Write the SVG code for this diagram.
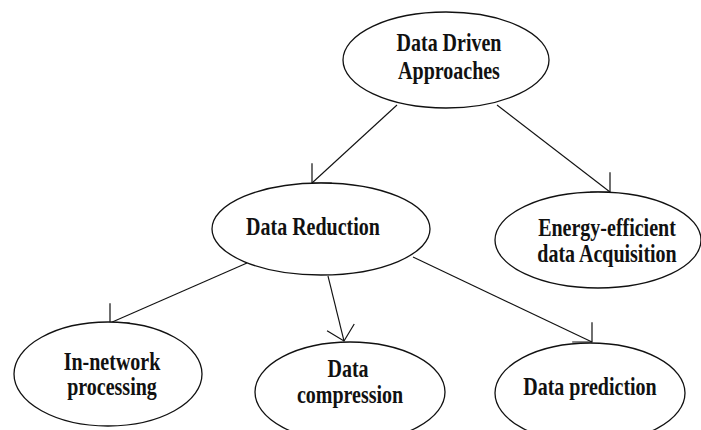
<svg xmlns="http://www.w3.org/2000/svg" width="701" height="430" viewBox="0 0 701 430">
<style>
.node ellipse{fill:#fff;stroke:#111;stroke-width:1.3}
.node text{font-family:"Liberation Serif","Times New Roman",serif;font-weight:bold;font-size:20px;text-anchor:middle;fill:#111}
.edges line{stroke:#111;stroke-width:1.1;fill:none}
.head{fill:none;stroke:#111;stroke-width:1.2}
</style>
<defs>
<marker id="arr" markerUnits="userSpaceOnUse" viewBox="-16 -16 18 32" refX="0" refY="0" markerWidth="18" markerHeight="32" orient="auto" overflow="visible">
<path class="head" d="M-14,-14 L0,0 L-14,14"/>
</marker>
<marker id="arrDL" markerUnits="userSpaceOnUse" viewBox="-16 -16 18 32" refX="0" refY="0" markerWidth="18" markerHeight="32" orient="135" overflow="visible">
<path class="head" d="M-14,-14 L0,0 L-14,14"/>
</marker>
<marker id="arrDR" markerUnits="userSpaceOnUse" viewBox="-16 -16 18 32" refX="0" refY="0" markerWidth="18" markerHeight="32" orient="45" overflow="visible">
<path class="head" d="M-14,-14 L0,0 L-14,14"/>
</marker>
</defs>
<rect width="701" height="430" fill="#fff"/>
<g class="edges">
<line x1="397" y1="105" x2="312" y2="183" marker-end="url(#arrDL)"/>
<line x1="497" y1="105" x2="610" y2="192" marker-end="url(#arrDR)"/>
<line x1="247" y1="263" x2="110" y2="323" marker-end="url(#arrDL)"/>
<line x1="328" y1="276" x2="344" y2="341" marker-end="url(#arr)"/>
<line x1="413" y1="257" x2="592" y2="342" marker-end="url(#arrDR)"/>
</g>
<g id="n-driven" class="node">
<ellipse cx="446" cy="60" rx="103" ry="48"/>
<text transform="translate(449,51) scale(1,1.25)">Data Driven</text>
<text transform="translate(449,79) scale(1,1.25)">Approaches</text>
</g>
<g id="n-reduction" class="node">
<ellipse cx="321" cy="229" rx="109" ry="46"/>
<text transform="translate(313,235) scale(1,1.25)">Data Reduction</text>
</g>
<g id="n-energy" class="node">
<ellipse cx="598" cy="240" rx="103" ry="48"/>
<text transform="translate(607,236) scale(1,1.25)">Energy-efficient</text>
<text transform="translate(607,262) scale(1,1.25)">data Acquisition</text>
</g>
<g id="n-innetwork" class="node">
<ellipse cx="108" cy="374" rx="94" ry="52"/>
<text transform="translate(112,370) scale(1,1.25)">In-network</text>
<text transform="translate(112,395) scale(1,1.25)">processing</text>
</g>
<g id="n-compression" class="node">
<ellipse cx="350" cy="392" rx="95" ry="50"/>
<text transform="translate(348,377) scale(1,1.25)">Data</text>
<text transform="translate(350,403) scale(1,1.25)">compression</text>
</g>
<g id="n-prediction" class="node">
<ellipse cx="590" cy="393" rx="95" ry="50"/>
<text transform="translate(590,395) scale(1,1.25)">Data prediction</text>
</g>
</svg>
